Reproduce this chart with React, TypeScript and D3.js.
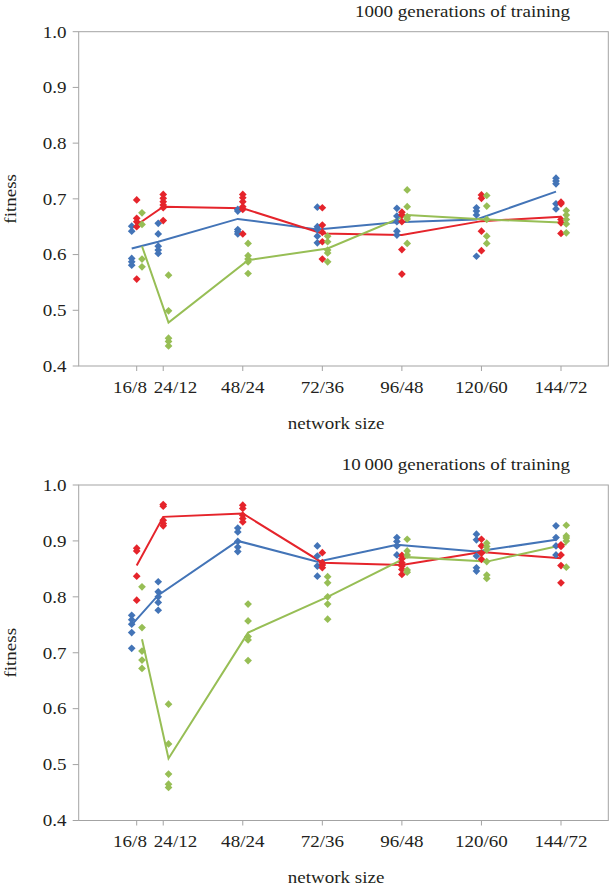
import React from "react";
import * as d3 from "d3";

// ---------- data ----------
const sizes = [16, 24, 48, 72, 96, 120, 144];
const sizeLabels = ["16/8", "24/12", "48/24", "72/36", "96/48", "120/60", "144/72"];
const yTicks = [0.4, 0.5, 0.6, 0.7, 0.8, 0.9, 1.0];

const titles = ["1000 generations of training", "10\u2009000 generations of training"];

// panel 1: 1000 generations
const blue1Pts = [
  [0.651, 0.642, 0.593, 0.587, 0.581],
  [0.656, 0.637, 0.615, 0.608, 0.602],
  [0.681, 0.678, 0.645, 0.641, 0.637],
  [0.685, 0.65, 0.645, 0.633, 0.621],
  [0.683, 0.669, 0.659, 0.642, 0.635],
  [0.684, 0.678, 0.671, 0.597],
  [0.737, 0.732, 0.727, 0.691, 0.682],
];
const blue1Mean = [0.611, 0.623, 0.664, 0.645, 0.658, 0.663, 0.713];

const red1Pts = [
  [0.698, 0.665, 0.659, 0.65, 0.556],
  [0.708, 0.701, 0.695, 0.689, 0.684, 0.661],
  [0.708, 0.702, 0.695, 0.686, 0.681, 0.637],
  [0.684, 0.653, 0.64, 0.623, 0.592],
  [0.676, 0.671, 0.659, 0.609, 0.565],
  [0.707, 0.701, 0.642, 0.607],
  [0.694, 0.691, 0.663, 0.657, 0.638],
];
const red1Mean = [0.653, 0.686, 0.683, 0.638, 0.635, 0.66, 0.668];

const green1Pts = [
  [0.675, 0.654, 0.592, 0.578],
  [0.563, 0.499, 0.45, 0.444, 0.436],
  [0.62, 0.598, 0.592, 0.587, 0.566],
  [0.633, 0.623, 0.608, 0.603, 0.587],
  [0.716, 0.686, 0.668, 0.664, 0.62],
  [0.706, 0.687, 0.663, 0.633, 0.62],
  [0.679, 0.671, 0.663, 0.655, 0.639],
];
const green1Mean = [0.615, 0.478, 0.59, 0.611, 0.671, 0.663, 0.657];

// panel 2: 10 000 generations
const blue2Pts = [
  [0.767, 0.759, 0.751, 0.736, 0.708],
  [0.827, 0.809, 0.8, 0.79, 0.776],
  [0.923, 0.916, 0.899, 0.889, 0.881],
  [0.891, 0.873, 0.855, 0.837],
  [0.906, 0.899, 0.891, 0.875],
  [0.912, 0.902, 0.873, 0.852, 0.846],
  [0.927, 0.906, 0.891, 0.875],
];
const blue2Mean = [0.75, 0.803, 0.9, 0.863, 0.893, 0.881, 0.902];

const red2Pts = [
  [0.887, 0.882, 0.837, 0.794],
  [0.965, 0.962, 0.937, 0.931, 0.927],
  [0.964, 0.958, 0.946, 0.94, 0.934],
  [0.879, 0.861, 0.857, 0.852],
  [0.874, 0.868, 0.861, 0.855, 0.849, 0.84],
  [0.903, 0.891, 0.878, 0.867],
  [0.893, 0.89, 0.875, 0.856, 0.825],
];
const red2Mean = [0.856, 0.943, 0.949, 0.861, 0.857, 0.88, 0.869];

const green2Pts = [
  [0.818, 0.745, 0.703, 0.687, 0.672],
  [0.608, 0.537, 0.483, 0.465, 0.459],
  [0.787, 0.757, 0.729, 0.723, 0.686],
  [0.836, 0.825, 0.8, 0.787, 0.76],
  [0.903, 0.882, 0.875, 0.848, 0.844],
  [0.896, 0.89, 0.884, 0.863, 0.839, 0.833],
  [0.928, 0.909, 0.905, 0.9, 0.853],
];
const green2Mean = [0.724, 0.511, 0.736, 0.8, 0.871, 0.863, 0.894];

// ---------- styles ----------
const W = 611;
const H = 888;
const LEFT = 78.7;
const RIGHT = 608.3;
const AXIS = "#a3a3a3";
const FONT = "'Liberation Serif', 'Times New Roman', serif";
const FS = 17;
const SX = 1.12;
const LABEL_SHIFT = [-6.7, 12.3, 0, 0, 0, 0, 0];

const COLORS = { blue: "#4374b7", red: "#e5242b", green: "#97be55" };
const OFFSETS = { blue: -5, red: 0, green: 5.3 };

type Series = { key: "blue" | "red" | "green"; pts: number[][]; mean: number[] };

const panels = [
  {
    title: titles[0],
    top: 31.7,
    bottom: 366,
    series: [
      { key: "blue", pts: blue1Pts, mean: blue1Mean },
      { key: "red", pts: red1Pts, mean: red1Mean },
      { key: "green", pts: green1Pts, mean: green1Mean },
    ] as Series[],
  },
  {
    title: titles[1],
    top: 485,
    bottom: 820.5,
    series: [
      { key: "blue", pts: blue2Pts, mean: blue2Mean },
      { key: "red", pts: red2Pts, mean: red2Mean },
      { key: "green", pts: green2Pts, mean: green2Mean },
    ] as Series[],
  },
];

const x = d3.scaleLinear().domain([16, 144]).range([136.7, 561]);
const diamond = d3.symbol().type(d3.symbolDiamond2).size(38)();

function SText(props: {
  x: number;
  y: number;
  anchor?: string;
  rotate?: number;
  children: React.ReactNode;
}) {
  const { x: tx, y: ty, anchor = "middle", rotate = 0, children } = props;
  return (
    <text
      transform={`translate(${tx},${ty}) rotate(${rotate}) scale(${SX},1)`}
      textAnchor={anchor}
      fontFamily={FONT}
      fontSize={FS}
      fill="#231f20"
    >
      {children}
    </text>
  );
}

function Panel({ p }: { p: (typeof panels)[number] }) {
  const y = d3.scaleLinear().domain([0.4, 1.0]).range([p.bottom, p.top]);
  const line = d3
    .line<[number, number]>()
    .x((d) => d[0])
    .y((d) => d[1]);
  return (
    <g>
      {/* frame */}
      <rect
        x={LEFT}
        y={p.top}
        width={RIGHT - LEFT}
        height={p.bottom - p.top}
        fill="none"
        stroke={AXIS}
        strokeWidth={1}
      />
      {/* y ticks */}
      {yTicks.map((t) => (
        <g key={t}>
          <line x1={LEFT - 6} x2={LEFT} y1={y(t)} y2={y(t)} stroke={AXIS} />
          <SText x={66.5} y={y(t) + 5.8} anchor="end">
            {t.toFixed(1)}
          </SText>
        </g>
      ))}
      {/* x ticks */}
      {sizes.map((s, i) => (
        <g key={s}>
          <line x1={x(s)} x2={x(s)} y1={p.bottom} y2={p.bottom + 5} stroke={AXIS} />
          <SText x={x(s) + LABEL_SHIFT[i]} y={p.bottom + 26.5}>
            {sizeLabels[i]}
          </SText>
        </g>
      ))}
      <SText x={336} y={p.bottom + 62.5}>
        network size
      </SText>
      <SText x={16} y={(p.top + p.bottom) / 2} rotate={-90}>
        fitness
      </SText>
      <SText x={570} y={p.top - 15} anchor="end">
        {p.title}
      </SText>
      {/* mean lines */}
      {p.series.map((s) => (
        <path
          key={"l" + s.key}
          d={line(s.mean.map((m, i) => [x(sizes[i]) + OFFSETS[s.key], y(m)])) || ""}
          fill="none"
          stroke={COLORS[s.key]}
          strokeWidth={2}
        />
      ))}
      {/* points */}
      {p.series.map((s) =>
        s.pts.map((arr, i) =>
          arr.map((v, j) => (
            <path
              key={s.key + i + "-" + j}
              d={diamond || ""}
              transform={`translate(${x(sizes[i]) + OFFSETS[s.key]},${y(v)})`}
              fill={COLORS[s.key]}
            />
          ))
        )
      )}
    </g>
  );
}

export default function App() {
  return (
    <svg
      width={W}
      height={H}
      style={{ position: "absolute", left: 0, top: 0, background: "#fff" }}
    >
      <rect width={W} height={H} fill="#fff" />
      {panels.map((p, i) => (
        <Panel key={i} p={p} />
      ))}
    </svg>
  );
}
